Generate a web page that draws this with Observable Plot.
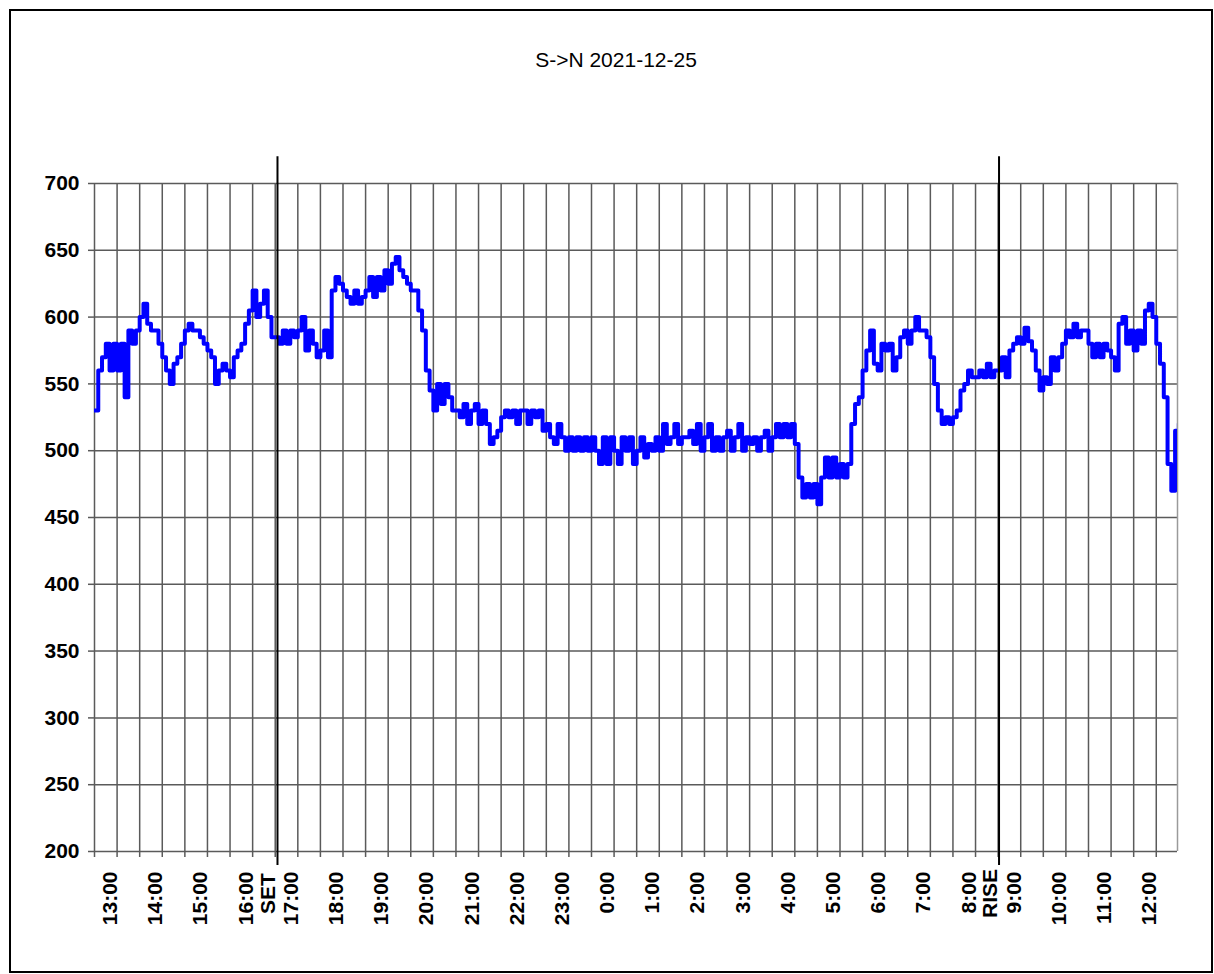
<!DOCTYPE html>
<html>
<head>
<meta charset="utf-8">
<script src="https://cdn.jsdelivr.net/npm/d3@7"></script>
<script src="https://cdn.jsdelivr.net/npm/@observablehq/plot@0.6"></script>
<style>
  html, body { margin: 0; padding: 0; background: #fff; }
  #page { position: relative; width: 1214px; height: 974px; overflow: hidden; font-family: "Liberation Sans", Arial, sans-serif; }
  #frame { position: absolute; left: 9px; top: 9px; width: 1200px; height: 960px; border: 2px solid #000; pointer-events: none; }
  #title { position: absolute; top: 47px; left: 616px; transform: translateX(-50%); font-size: 21px; line-height: 26px; white-space: nowrap; color: #000; }
  #chart { position: absolute; left: 0; top: 0; }
</style>
</head>
<body>
<div id="page">
  <div id="chart"></div>
  <div id="frame"></div>
  <div id="title">S-&gt;N 2021-12-25</div>
</div>
<script>
// ---- data -------------------------------------------------------------
const title = "S->N 2021-12-25";
const sampleStartHour = 12.5;      // first reading at 12:30
const sampleStepMinutes = 5;       // one reading every 5 minutes
const values = [
  // 12:30 - 12:55
  530, 560, 570, 580, 560, 580,
  // 13:00
  560, 580, 540, 590, 580, 590,
  // 13:30
  600, 610, 595, 590, 590, 580,
  // 14:00
  570, 560, 550, 565, 570, 580,
  // 14:30
  590, 595, 590, 590, 585, 580,
  // 15:00
  575, 570, 550, 560, 565, 560,
  // 15:30
  555, 570, 575, 580, 595, 605,
  // 16:00
  620, 600, 610, 620, 600, 585,
  // 16:30
  585, 580, 590, 580, 590, 585,
  // 17:00
  590, 600, 575, 590, 580, 570,
  // 17:30
  575, 590, 570, 620, 630, 625,
  // 18:00
  620, 615, 610, 620, 610, 615,
  // 18:30
  620, 630, 615, 630, 620, 635,
  // 19:00
  625, 640, 645, 635, 630, 625,
  // 19:30
  620, 620, 605, 590, 560, 545,
  // 20:00
  530, 550, 535, 550, 540, 530,
  // 20:30
  530, 525, 535, 520, 530, 535,
  // 21:00
  520, 530, 520, 505, 510, 515,
  // 21:30
  525, 530, 525, 530, 520, 530,
  // 22:00
  530, 520, 530, 525, 530, 515,
  // 22:30
  520, 510, 505, 520, 510, 500,
  // 23:00
  510, 500, 510, 500, 510, 500,
  // 23:30
  510, 500, 490, 510, 490, 510,
  // 0:00
  500, 490, 510, 500, 510, 490,
  // 0:30
  500, 510, 495, 505, 500, 510,
  // 1:00
  500, 520, 505, 510, 520, 505,
  // 1:30
  510, 510, 515, 505, 520, 500,
  // 2:00
  510, 520, 500, 510, 500, 510,
  // 2:30
  515, 500, 510, 520, 500, 510,
  // 3:00
  505, 510, 500, 510, 515, 500,
  // 3:30
  510, 520, 510, 520, 510, 520,
  // 4:00
  505, 480, 465, 475, 465, 475,
  // 4:30
  460, 480, 495, 480, 495, 480,
  // 5:00
  490, 480, 490, 520, 535, 540,
  // 5:30
  560, 575, 590, 565, 560, 580,
  // 6:00
  575, 580, 560, 570, 585, 590,
  // 6:30
  580, 590, 600, 590, 590, 585,
  // 7:00
  570, 550, 530, 520, 525, 520,
  // 7:30
  525, 530, 545, 550, 560, 555,
  // 8:00
  555, 560, 555, 565, 555, 560,
  // 8:30
  560, 570, 555, 575, 580, 585,
  // 9:00
  580, 592, 582, 575, 560, 545,
  // 9:30
  555, 550, 570, 560, 570, 580,
  // 10:00
  590, 585, 595, 585, 590, 590,
  // 10:30
  580, 570, 580, 570, 580, 575,
  // 11:00
  570, 560, 595, 600, 580, 590,
  // 11:30
  575, 590, 580, 605, 610, 600,
  // 12:00
  580, 565, 540, 490, 470, 515,
  // 12:30
  520
];
const xDomain = [12.5, 36.47];           // 12:30 .. 12:28 next day
const hourTicks = [13,14,15,16,17,18,19,20,21,22,23,24,25,26,27,28,29,30,31,32,33,34,35,36];
const hourLabels = ["13:00","14:00","15:00","16:00","17:00","18:00","19:00","20:00","21:00","22:00","23:00","0:00","1:00","2:00","3:00","4:00","5:00","6:00","7:00","8:00","9:00","10:00","11:00","12:00"];
const eventTimes = [16.55, 32.52];       // sunset 16:33, sunrise 8:31
const eventLabels = ["SET", "RISE"];
const yTicks = [200, 250, 300, 350, 400, 450, 500, 550, 600, 650, 700];

// ---- build -------------------------------------------------------------
const series = values.map((v, i) => ({t: sampleStartHour + i * sampleStepMinutes / 60, v}));
const halfHours = d3.range(12.5, 36.01, 0.5);
const gridColor = "#5a5a5a";
const font = "'Liberation Sans', Arial, sans-serif";

const chart = Plot.plot({
  width: 1214,
  height: 974,
  marginLeft: 94,
  marginRight: 37,
  marginTop: 183,
  marginBottom: 123,
  style: {fontFamily: font, color: "#000", background: "transparent"},
  x: {domain: xDomain, axis: null},
  y: {domain: [200, 700], axis: null},
  marks: [
    Plot.gridX(halfHours, {stroke: gridColor, strokeOpacity: 1, strokeWidth: 1.5}),
    Plot.gridY(yTicks, {stroke: gridColor, strokeOpacity: 1, strokeWidth: 1.5}),
    Plot.ruleX([xDomain[1]], {stroke: "#9a9a9a", strokeWidth: 1.5}),
    Plot.axisX(halfHours, {tickSize: 6, tickFormat: () => "", label: null, stroke: gridColor, strokeWidth: 1.5}),
    Plot.axisY(yTicks, {tickSize: 6, tickPadding: 9, label: null, fontSize: 21, fontWeight: "bold", stroke: gridColor, strokeWidth: 1.5}),
    Plot.text(hourTicks, {x: d => d, text: (d, i) => hourLabels[i], frameAnchor: "bottom", dy: 20, rotate: -90, textAnchor: "end", fontSize: 21, fontWeight: "bold", fill: "#000"}),
    Plot.line(series, {x: "t", y: "v", curve: "step-after", stroke: "#0000ff", strokeWidth: 4, clip: true}),
    Plot.ruleX(eventTimes, {y1: 720, y2: 189.5, stroke: "#000", strokeWidth: 2}),
    Plot.text(eventTimes, {x: d => d, text: (d, i) => eventLabels[i], frameAnchor: "bottom", dy: 42, dx: -2, rotate: -90, textAnchor: "middle", fontSize: 21, fontWeight: "bold", fill: "#000"})
  ]
});
document.getElementById("chart").appendChild(chart);
</script>
</body>
</html>
